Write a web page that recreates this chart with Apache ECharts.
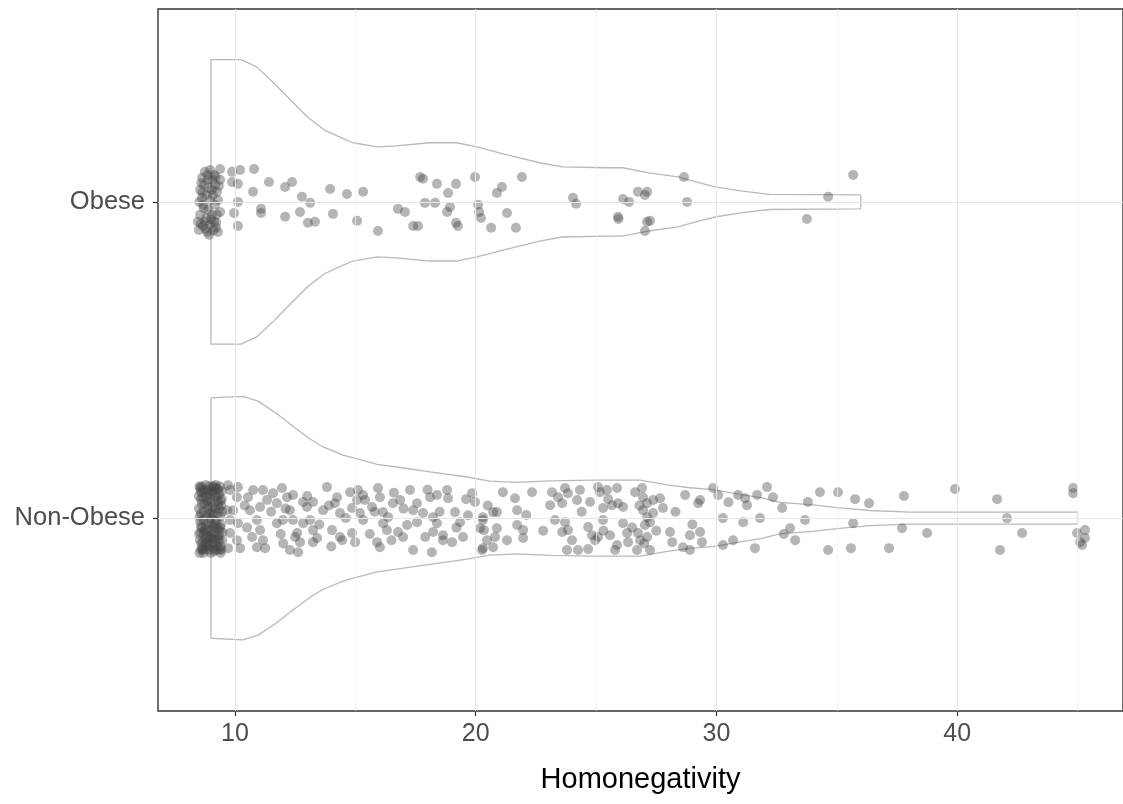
<!DOCTYPE html>
<html>
<head>
<meta charset="utf-8">
<script src="https://cdn.jsdelivr.net/npm/echarts@6/dist/echarts.min.js"></script>
<style>html,body{margin:0;padding:0;background:#fff}#c{width:1123px;height:804px}</style>
</head>
<body>
<div id="c"></div>
<script>
var categories = ['Non-Obese', 'Obese'];
var xTicks = [10, 20, 30, 40];
var xMinor = [15, 25, 35, 45];
var xTitle = 'Homonegativity';

// violin outlines: value along x, half-width in category units
var obeseViolinX  = [9.0, 10.25, 10.9, 11.6, 12.3, 13.0, 13.7, 14.4, 14.9, 15.9, 16.7, 18.1, 19.2, 20.05, 21.3, 22.7, 23.6, 25.4, 26.1, 27.2, 28.4, 29.3, 30.0, 31.0, 32.2, 36.0];
var obeseViolinHW = [0.45, 0.45, 0.427, 0.377, 0.323, 0.269, 0.228, 0.203, 0.187, 0.174, 0.177, 0.187, 0.187, 0.174, 0.149, 0.123, 0.111, 0.108, 0.108, 0.092, 0.079, 0.060, 0.047, 0.035, 0.024, 0.022];
var nonObeseViolinX  = [9.0, 10.33, 10.96, 11.74, 12.5, 13.12, 13.66, 14.49, 15.07, 15.9, 16.86, 18.1, 19.64, 20.59, 21.72, 23.09, 24.87, 26.83, 27.95, 28.9, 29.86, 30.98, 31.89, 32.64, 34.01, 35.01, 36.38, 38.04, 45.0];
var nonObeseViolinHW = [0.38, 0.385, 0.37, 0.33, 0.285, 0.25, 0.225, 0.199, 0.187, 0.17, 0.16, 0.146, 0.13, 0.117, 0.113, 0.118, 0.12, 0.12, 0.105, 0.096, 0.09, 0.075, 0.064, 0.05, 0.042, 0.033, 0.024, 0.019, 0.019];

// jittered points: [homonegativity, vertical jitter]
var obesePoints = [
[8.75,0.095],[8.63,0.076],[8.88,0.070],[9.13,0.085],[8.55,0.038],[8.80,0.022],[8.96,0.006],[9.17,-0.009],[8.67,-0.009],[8.88,-0.025],
[9.04,-0.041],[8.55,-0.041],[8.75,-0.063],[8.96,-0.073],[9.21,-0.082],[8.50,-0.089],[8.84,-0.095],[9.29,-0.095],[9.04,0.038],[9.29,0.006],
[9.38,-0.032],[8.71,0.054],[9.17,0.054],[8.46,-0.063],[9.38,0.070],[8.96,0.101],[9.08,0.022],[8.80,-0.051],[9.13,-0.063],[8.63,0.013],
[8.92,-0.104],[9.25,0.032],[8.67,-0.076],
[8.60,0.060],[8.92,0.045],[9.20,0.080],[8.70,-0.020],[9.00,-0.055],[9.25,-0.040],[8.58,-0.070],[8.86,0.085],[9.10,-0.090],[8.52,0.000],
[9.33,0.050],[8.78,-0.085],[9.05,0.070],[8.65,0.030],[9.22,-0.065],
[9.38,0.104],[9.88,0.095],[10.21,0.101],[10.79,0.104],[9.88,0.063],[10.12,0.057],[10.75,0.032],[11.41,0.063],[12.08,0.047],[12.37,0.063],
[12.78,0.016],[13.12,-0.003],[13.95,0.041],[14.65,0.025],[15.32,0.032],[10.12,0],[9.96,-0.035],[10.12,-0.076],[11.08,-0.022],[11.08,-0.035],
[12.08,-0.047],[12.70,-0.032],[13.03,-0.066],[13.32,-0.063],[14.07,-0.038],[15.07,-0.060],[15.94,-0.092],[16.77,-0.022],[17.06,-0.032],
[17.40,-0.076],[17.60,-0.076],[17.69,0.079],[17.81,0.073],[17.89,-0.003],[18.31,-0.003],[18.39,0.057],[18.85,0.028],[19.18,0.057],
[18.81,-0.032],[18.93,-0.016],[19.18,-0.066],[19.26,-0.076],[19.97,0.079],[20.10,-0.009],[20.14,-0.032],[20.22,-0.051],[20.64,-0.082],
[20.88,0.028],[21.09,0.047],[21.30,-0.035],[21.67,-0.082],[21.92,0.079],[24.04,0.013],[24.17,-0.006],[25.91,-0.047],[25.93,-0.054],
[26.12,0.009],[26.37,0],[26.74,0.032],[27.03,0.022],[27.12,0.032],[27.12,-0.063],[27.24,-0.060],[27.03,-0.092],[28.65,0.079],[28.78,0],
[33.76,-0.054],[34.64,0.016],[35.68,0.085]
];
var nonObesePoints = [
[8.52,0.10],[8.71,0.09],[8.93,0.10],[9.15,0.09],[9.38,0.10],[8.58,0.06],[8.80,0.07],[9.02,0.05],[9.25,0.07],[9.45,0.06],
[8.50,0.03],[8.68,0.02],[8.90,0.03],[9.10,0.01],[9.33,0.03],[8.55,-0.01],[8.77,-0.02],[8.98,0.00],[9.20,-0.01],[9.42,-0.02],
[8.51,-0.05],[8.72,-0.04],[8.95,-0.06],[9.17,-0.05],[9.37,-0.04],[8.60,-0.08],[8.82,-0.09],[9.05,-0.08],[9.28,-0.09],[9.47,-0.07],
[8.53,-0.11],[8.75,-0.10],[9.00,-0.11],[9.22,-0.10],[9.40,-0.11],[8.64,0.08],[8.86,0.04],[9.08,0.08],[9.30,0.04],[8.62,-0.03],
[8.85,-0.06],[9.12,-0.03],[9.35,-0.07],[8.66,-0.10],[9.12,0.10],
[8.57,0.085],[8.79,0.105],[9.01,0.085],[9.23,0.095],[9.44,0.085],[8.62,0.045],[8.84,0.055],[9.06,0.035],[9.27,0.055],[9.46,0.02],
[8.53,0.005],[8.73,0.045],[8.94,0.015],[9.16,0.03],[9.39,0.005],[8.58,-0.025],[8.80,-0.035],[9.03,-0.02],[9.26,-0.035],[9.48,-0.045],
[8.54,-0.07],[8.76,-0.065],[8.99,-0.04],[9.21,-0.07],[9.41,-0.09],[8.64,-0.095],[8.87,-0.075],[9.09,-0.095],[9.32,-0.055],[8.69,-0.11],
[8.91,-0.085],[9.14,-0.105],[9.36,-0.1],[8.6,0.1],[9.2,0.105],[8.97,0.06],[9.1,-0.065],[8.7,-0.05],[9.3,0.09],[8.5,0.07],
[8.56,0.095],[8.83,0.085],[9.07,0.1],[9.34,0.075],[8.67,0.065],[8.92,0.075],[9.18,0.065],[9.43,0.04],[8.59,0.015],[8.81,0.01],
[9.04,0.015],[9.28,0.015],[8.69,-0.005],[8.92,-0.015],[9.14,-0.02],[9.38,-0.03],[8.57,-0.045],[8.83,-0.045],[9.06,-0.05],[9.29,-0.065],
[8.68,-0.075],[8.93,-0.1],[9.16,-0.085],[9.44,-0.1],[8.58,-0.1],[8.79,-0.08],[9.02,-0.065],[9.24,-0.02],[8.89,0.09],[9.4,0.055],
[9.71,0.104],[9.79,0.089],[10.12,0.098],[10.08,0.066],[9.67,0.025],[9.92,0.025],[9.79,-0.006],[10.12,-0.016],[9.79,-0.047],[10.08,-0.070],
[9.71,-0.095],[10.21,-0.095],[10.54,0.066],[10.62,0.025],[10.75,0.089],[11.16,0.089],[11.33,0.057],[11.04,0.035],[10.91,-0.006],[11.04,-0.038],
[11.16,-0.070],[10.91,-0.092],[11.25,-0.095],[10.71,-0.060],[11.58,0.079],[11.95,0.095],[11.74,0.047],[12.16,0.066],[12.41,0.073],[12.28,0.025],
[11.99,-0.006],[11.74,-0.016],[12.41,-0.006],[12.83,0.051],[12.99,0.035],[13.24,0.051],[12.58,-0.047],[12.83,-0.016],[13.12,-0.006],[13.24,-0.038],
[12.70,-0.076],[12.28,-0.101],[12.62,-0.108],[13.24,-0.076],[13.41,-0.063],[13.82,0.098],[14.24,0.066],[14.15,0.047],[14.36,0.016],[13.66,0.025],
[14.03,-0.038],[14.36,-0.060],[14.86,-0.047],[14.99,-0.076],[14.45,-0.070],[14.78,0.082],[15.11,0.089],[15.32,0.073],[15.07,0.057],[15.40,0.057],
[14.86,0.032],[15.19,0.016],[15.32,-0.006],[15.94,0.095],[16.02,0.066],[15.69,0.035],[16.15,0.019],[16.36,0.003],[16.15,-0.016],[16.31,-0.038],
[16.02,-0.092],[15.90,-0.076],[16.56,0.047],[16.86,0.057],[17.27,0.089],[17.56,0.047],[17.40,0.025],[17.56,-0.013],[17.15,-0.022],[16.77,-0.044],
[16.98,-0.060],[17.40,-0.101],[18.18,-0.108],[17.81,0.016],[18.23,0.003],[18.39,-0.016],[18.10,0.066],[18.39,0.073],[18.23,-0.044],[18.64,-0.054],
[18.81,0.089],[18.85,0.063],[19.14,0.019],[18.64,-0.070],[19.02,-0.076],[19.47,-0.060],[19.35,-0.013],[19.68,0.009],[19.85,0.079],[19.97,0.051],
[20.18,-0.032],[20.30,-0.006],[20.47,-0.070],[20.26,-0.101],[20.72,-0.092],[20.72,0.019],
[10.4,0.04],[10.5,-0.03],[11.5,0.02],[11.9,-0.05],[12.1,0.03],[12.0,-0.08],[13.0,0.07],[13.5,-0.02],[13.9,0.04],[14.6,0.0],
[15.6,-0.05],[15.8,0.02],[16.5,-0.07],[16.6,0.08],[17.0,0.03],[17.9,-0.06],[18.5,0.02],[19.2,-0.03],[19.6,0.06],[20.5,0.04],
[21.3,-0.07],[22.1,0.01],[24.0,-0.07],[24.4,0.02],[25.3,-0.04],[25.5,0.06],[26.5,-0.03],[26.8,0.04],[27.0,-0.08],[27.5,-0.04],
[28.3,0.02],[29.0,-0.02],[30.5,0.05],[32.8,-0.05],[12.5,-0.06],[14.0,-0.09],[18.0,0.09],[22.8,-0.04],
[21.13,0.082],[21.63,0.063],[22.34,0.082],[21.72,0.025],[20.88,0.019],[20.30,0.003],[20.34,-0.038],[20.88,-0.032],[20.80,-0.060],[21.72,-0.022],
[21.97,-0.038],[21.97,-0.063],[20.30,-0.095],[23.17,0.082],[23.42,0.066],[23.71,0.095],[23.83,0.079],[24.33,0.089],[23.09,0.041],[23.59,0.047],
[24.21,0.057],[23.29,-0.006],[23.71,-0.013],[23.59,-0.044],[23.83,-0.038],[23.79,-0.101],[24.25,-0.101],[24.67,-0.098],[24.75,0.051],[25.08,0.098],
[25.16,0.082],[25.45,0.089],[25.87,0.095],[25.29,0.032],[25.66,0.041],[25.91,0.047],[26.12,0.035],[25.29,-0.006],[24.67,-0.028],[24.83,-0.054],
[24.96,-0.070],[25.08,-0.060],[25.58,-0.054],[25.87,-0.085],[25.79,-0.101],[26.12,-0.016],[26.29,-0.047],[26.33,-0.076],[26.70,-0.101],[27.24,-0.101],
[26.62,0.082],[26.91,0.095],[26.95,0.066],[27.12,0.047],[27.37,0.057],[27.66,0.063],[27.78,0.032],[26.95,0.025],[27.12,0.003],[27.24,-0.013],
[27.03,-0.022],[27.37,0.016],[26.74,-0.047],[26.83,-0.070],[27.12,-0.060],[28.07,-0.044],[28.16,-0.076],[28.70,0.073],[28.90,-0.054],[28.61,-0.092],
[28.90,-0.101],[29.24,0.047],[29.32,0.057],[29.32,-0.044],[29.40,-0.076],[29.86,0.095],[30.07,0.073],[30.27,0],[30.27,-0.085],[30.69,-0.070],
[30.90,0.073],[31.19,0.063],[31.27,0.041],[31.69,0.073],[32.10,0.098],[32.35,0.066],[31.11,-0.013],[31.81,0],[31.60,-0.095],[32.73,0.032],
[33.06,-0.032],[33.27,-0.070],[33.68,-0.006],[33.80,0.051],[34.30,0.082],[34.64,-0.101],
[35.05,0.082],[35.76,0.060],[36.34,0.047],[35.68,-0.016],[35.59,-0.095],[37.17,-0.095],[37.79,0.070],[37.71,-0.032],[38.75,-0.047],[39.91,0.092],
[41.66,0.060],[42.07,0],[42.70,-0.047],[41.78,-0.101],[44.82,0.095],[44.82,0.079],[44.98,-0.047],[45.31,-0.038],[45.31,-0.063],[45.19,-0.085],[45.11,-0.076]
];

function violinPath(xs, hws, center) {
  var pts = [];
  for (var i = 0; i < xs.length; i++) pts.push([xs[i], center + hws[i]]);
  for (var j = xs.length - 1; j >= 0; j--) pts.push([xs[j], center - hws[j]]);
  pts.push([xs[0], center + hws[0]]);
  return pts;
}
function pointData(pts, center) {
  return pts.map(function (p) { return [p[0], center + p[1]]; });
}
var catPos = {'Non-Obese': 1, 'Obese': 2};

var chart = echarts.init(document.getElementById('c'), null, {renderer: 'canvas'});
var font = 'Liberation Sans, Arial, sans-serif';
var violinLine = {color: '#b9b9b9', width: 1.3};
var pointStyle = {color: 'rgba(70,70,70,0.5)'};

chart.setOption({
  animation: false,
  backgroundColor: '#ffffff',
  grid: {left: 158, right: 0, top: 9, bottom: 93, show: true, borderColor: '#333333', borderWidth: 1.4, backgroundColor: '#ffffff'},
  xAxis: {
    type: 'value', min: 6.8, max: 46.89,
    axisLine: {show: false},
    splitLine: {show: false},
    axisTick: {show: true, customValues: xTicks, length: 5, lineStyle: {color: '#333333', width: 1.2}},
    axisLabel: {customValues: xTicks, color: '#4d4d4d', fontSize: 25, fontFamily: font, margin: 11},
    name: xTitle, nameLocation: 'middle', nameGap: 54,
    nameTextStyle: {color: '#000000', fontSize: 29, fontFamily: font}
  },
  yAxis: {
    type: 'value', min: 0.39, max: 2.61,
    axisLine: {show: false},
    splitLine: {show: false},
    axisTick: {show: true, customValues: [1, 2], length: 5, lineStyle: {color: '#333333', width: 1.2}},
    axisLabel: {customValues: [1, 2], color: '#4d4d4d', fontSize: 25.5, fontFamily: font, margin: 13,
      formatter: function (v) { return categories[Math.round(v) - 1]; }}
  },
  series: [
    {
      type: 'line', data: [], silent: true, z: 1,
      markLine: {
        silent: true, symbol: ['none', 'none'], label: {show: false}, animation: false,
        data: xMinor.map(function (v) { return {xAxis: v, lineStyle: {color: '#f2f2f2', width: 0.7, type: 'solid'}}; })
      }
    },
    {
      type: 'line', data: [], silent: true, z: 1,
      markLine: {
        silent: true, symbol: ['none', 'none'], label: {show: false}, animation: false,
        data: xTicks.map(function (v) { return {xAxis: v, lineStyle: {color: '#e6e6e6', width: 1.1, type: 'solid'}}; })
          .concat([1, 2].map(function (v) { return {yAxis: v, lineStyle: {color: '#e6e6e6', width: 1.1, type: 'solid'}}; }))
      }
    },
    {type: 'line', name: 'Obese violin', data: violinPath(obeseViolinX, obeseViolinHW, catPos['Obese']), symbol: 'none', lineStyle: violinLine, z: 2, silent: true},
    {type: 'line', name: 'Non-Obese violin', data: violinPath(nonObeseViolinX, nonObeseViolinHW, catPos['Non-Obese']), symbol: 'none', lineStyle: violinLine, z: 2, silent: true},
    {type: 'scatter', name: 'Obese', data: pointData(obesePoints, catPos['Obese']), symbolSize: 10, itemStyle: pointStyle, z: 3},
    {type: 'scatter', name: 'Non-Obese', data: pointData(nonObesePoints, catPos['Non-Obese']), symbolSize: 10, itemStyle: pointStyle, z: 3}
  ]
});
</script>
</body>
</html>
